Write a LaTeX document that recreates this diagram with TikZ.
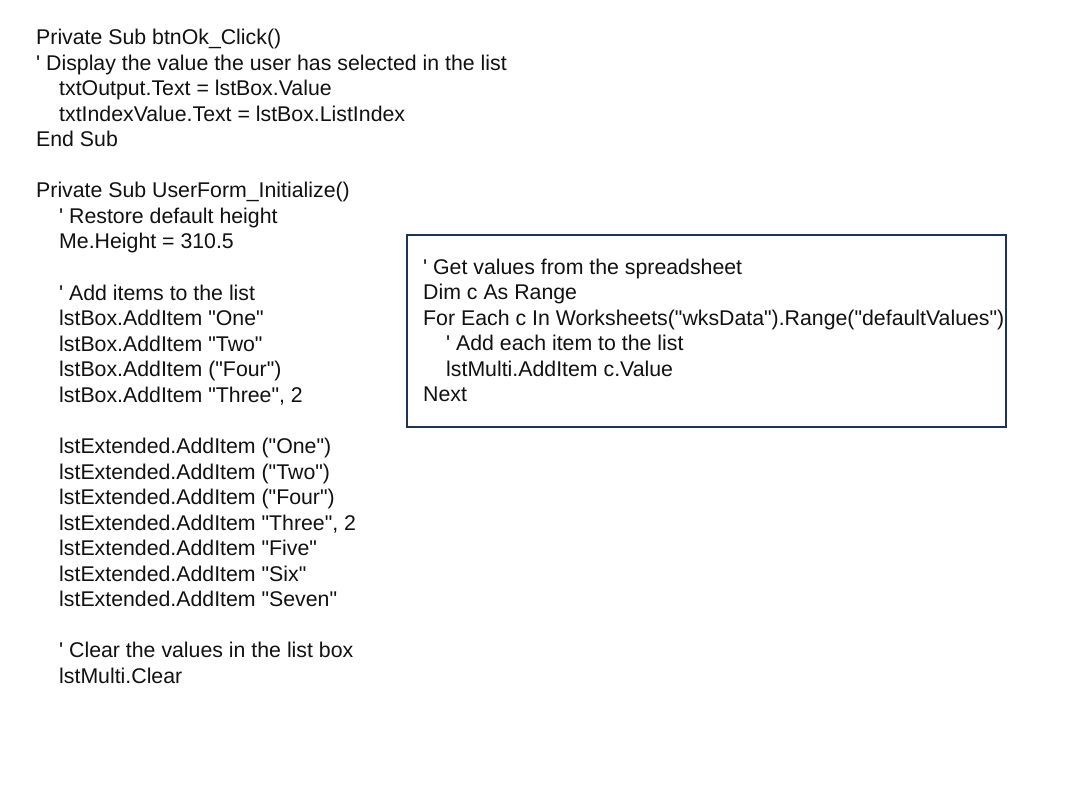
\documentclass[tikz,border=0pt]{standalone}
\usepackage{fontspec}
\newfontfamily\codefont{Liberation Sans}
\definecolor{boxblue}{HTML}{1C3557}
\definecolor{codeink}{HTML}{111111}
\begin{document}
\begin{tikzpicture}[x=1pt,y=-1pt,
  codeline/.style={anchor=base west,inner sep=0pt,font=\codefont\fontsize{21.3}{25.6}\selectfont,text=codeink},
  panel/.style={draw=boxblue,line width=2pt}]
\useasboundingbox (0,0) rectangle (1066,800);
\fill[white] (0,0) rectangle (1066,800);
% left code
\def\L{36}\def\I{59}
\node[codeline] (l0) at (\L,{44.5+25.56*0}) {Private Sub btnOk\_Click()};
\node[codeline] (l1) at (\L,{44.5+25.56*1}) {' Display the value the user has selected in the list};
\node[codeline] (l2) at (\I,{44.5+25.56*2}) {txtOutput.Text = lstBox.Value};
\node[codeline] (l3) at (\I,{44.5+25.56*3}) {txtIndexValue.Text = lstBox.ListIndex};
\node[codeline] (l4) at (\L,{44.5+25.56*4}) {End Sub};
\node[codeline] (l6) at (\L,{44.5+25.56*6}) {Private Sub UserForm\_Initialize()};
\node[codeline] (l7) at (\I,{44.5+25.56*7}) {' Restore default height};
\node[codeline] (l8) at (\I,{44.5+25.56*8}) {Me.Height = 310.5};
\node[codeline] (l10) at (\I,{44.5+25.56*10}) {' Add items to the list};
\node[codeline] (l11) at (\I,{44.5+25.56*11}) {lstBox.AddItem "One"};
\node[codeline] (l12) at (\I,{44.5+25.56*12}) {lstBox.AddItem "Two"};
\node[codeline] (l13) at (\I,{44.5+25.56*13}) {lstBox.AddItem ("Four")};
\node[codeline] (l14) at (\I,{44.5+25.56*14}) {lstBox.AddItem "Three", 2};
\node[codeline] (l16) at (\I,{44.5+25.56*16}) {lstExtended.AddItem ("One")};
\node[codeline] (l17) at (\I,{44.5+25.56*17}) {lstExtended.AddItem ("Two")};
\node[codeline] (l18) at (\I,{44.5+25.56*18}) {lstExtended.AddItem ("Four")};
\node[codeline] (l19) at (\I,{44.5+25.56*19}) {lstExtended.AddItem "Three", 2};
\node[codeline] (l20) at (\I,{44.5+25.56*20}) {lstExtended.AddItem "Five"};
\node[codeline] (l21) at (\I,{44.5+25.56*21}) {lstExtended.AddItem "Six"};
\node[codeline] (l22) at (\I,{44.5+25.56*22}) {lstExtended.AddItem "Seven"};
\node[codeline] (l24) at (\I,{44.5+25.56*24}) {' Clear the values in the list box};
\node[codeline] (l25) at (\I,{44.5+25.56*25}) {lstMulti.Clear};
% boxed code
\draw[panel] (406.5,234.5) rectangle (1006,427);
\def\BL{423}\def\BI{446}
\node[codeline] (b0) at (\BL,{274+25.56*0}) {' Get values from the spreadsheet};
\node[codeline] (b1) at (\BL,{274+25.56*1}) {Dim c As Range};
\node[codeline] (b2) at (\BL,{274+25.56*2}) {For Each c In Worksheets("wksData").Range("defaultValues")};
\node[codeline] (b3) at (\BI,{274+25.56*3}) {' Add each item to the list};
\node[codeline] (b4) at (\BI,{274+25.56*4}) {lstMulti.AddItem c.Value};
\node[codeline] (b5) at (\BL,{274+25.56*5}) {Next};
\end{tikzpicture}
\end{document}
